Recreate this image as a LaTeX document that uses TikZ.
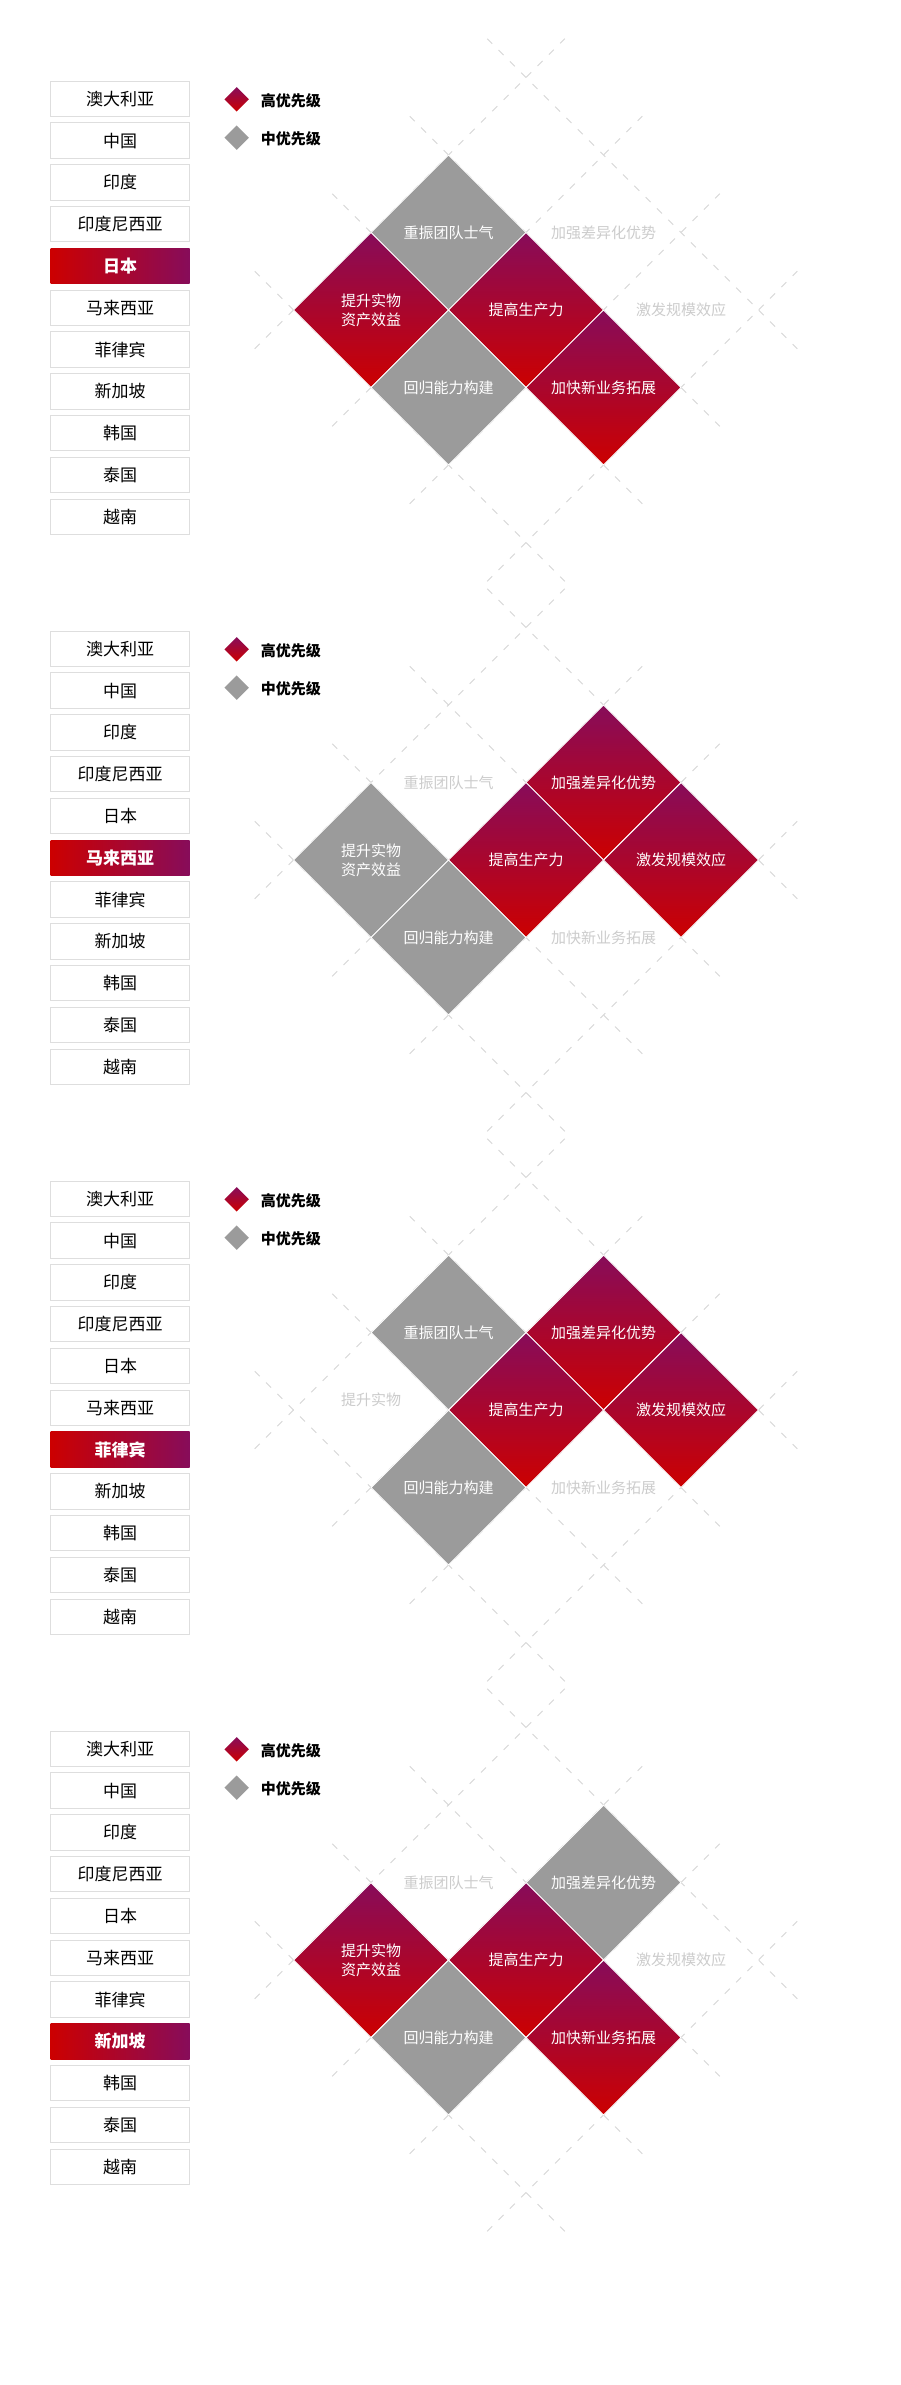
\documentclass[tikz,border=0pt]{standalone}
\usepackage{fontspec}
\setmainfont{Noto Sans CJK SC}
\usetikzlibrary{shapes.geometric}
\definecolor{hired}{RGB}{204,0,0}
\definecolor{hipurple}{RGB}{135,12,90}
\definecolor{midgray}{RGB}{155,155,155}
\definecolor{boxline}{RGB}{222,222,222}
\definecolor{fadetext}{RGB}{204,204,204}
\definecolor{gridline}{RGB}{214,214,214}
\begin{document}
\begin{tikzpicture}[x=1pt,y=-1pt,
  country/.style={draw=boxline,line width=1pt,fill=white,minimum width=139pt,minimum height=35.5pt,inner sep=0pt,font=\fontsize{17}{20}\selectfont},
  picked/.style={country,draw=none,left color=hired,right color=hipurple,text=white,font=\fontsize{17}{20}\selectfont\bfseries},
  dia/.style={diamond,aspect=1,inner sep=0pt,minimum width=155pt,minimum height=155pt,draw=white,line width=0.8pt,text=white,align=center,font=\fontsize{15}{19}\selectfont},
  hidia/.style={dia,top color=hipurple,bottom color=hired},
  middia/.style={dia,fill=midgray},
  faded/.style={text=fadetext,align=center,font=\fontsize{15}{19}\selectfont},
  keydia/.style={diamond,aspect=1,inner sep=0pt,minimum width=24.6pt,minimum height=24.6pt},
  keytext/.style={anchor=west,inner sep=0pt,font=\fontsize{15}{18}\selectfont\bfseries},
  gridlines/.style={gridline,line width=1pt,dash pattern=on 7pt off 9pt}]
\fill[white] (0,0) rectangle (900,2385);
\useasboundingbox (0,0) rectangle (900,2385);

% country list, legend and dashed grid of each panel
\foreach \p/\sel in {0/5,1/6,2/7,3/8}{
\begin{scope}[yshift=-550*\p]
\foreach \name [count=\i] in {澳大利亚,中国,印度,印度尼西亚,日本,马来西亚,菲律宾,新加坡,韩国,泰国,越南}{
  \ifnum\i=\sel\def\look{picked}\else\def\look{country}\fi
  \node[\look] (c\p-\i) at (120,{98.75+41.8*(\i-1)}) {\name};
}
\node[keydia,top color=hipurple,bottom color=hired] (hikey\p) at (236.7,99.3) {};
\node[keytext] (hilabel\p) at (260.7,100.5) {高优先级};
\node[keydia,fill=midgray] (midkey\p) at (236.7,137.7) {};
\node[keytext] (midlabel\p) at (260.7,139) {中优先级};
\foreach \k in {0,...,3}{
  \draw[gridlines] ({254.75+77.5*\k},{271.25-77.5*\k}) -- ++(310,310);
  \draw[gridlines] ({254.75+77.5*\k},{348.75+77.5*\k}) -- ++(310,-310);
}
\end{scope}
}

% panel 1: Japan
\node[middia] (p1-team) at (448.5,232.5) {重振团队士气};
\node[faded] (p1-edge) at (603.5,232.5) {加强差异化优势};
\node[hidia] (p1-asset) at (371,310) {提升实物\\资产效益};
\node[hidia] (p1-prod) at (526,310) {提高生产力};
\node[faded] (p1-scale) at (681,310) {激发规模效应};
\node[middia] (p1-rebuild) at (448.5,387.5) {回归能力构建};
\node[hidia] (p1-newbiz) at (603.5,387.5) {加快新业务拓展};

% panel 2: Malaysia
\node[faded] (p2-team) at (448.5,782.5) {重振团队士气};
\node[hidia] (p2-edge) at (603.5,782.5) {加强差异化优势};
\node[middia] (p2-asset) at (371,860) {提升实物\\资产效益};
\node[hidia] (p2-prod) at (526,860) {提高生产力};
\node[hidia] (p2-scale) at (681,860) {激发规模效应};
\node[middia] (p2-rebuild) at (448.5,937.5) {回归能力构建};
\node[faded] (p2-newbiz) at (603.5,937.5) {加快新业务拓展};

% panel 3: Philippines
\node[middia] (p3-team) at (448.5,1332.5) {重振团队士气};
\node[hidia] (p3-edge) at (603.5,1332.5) {加强差异化优势};
\node[faded] (p3-asset) at (371,1400) {提升实物};
\node[hidia] (p3-prod) at (526,1410) {提高生产力};
\node[hidia] (p3-scale) at (681,1410) {激发规模效应};
\node[middia] (p3-rebuild) at (448.5,1487.5) {回归能力构建};
\node[faded] (p3-newbiz) at (603.5,1487.5) {加快新业务拓展};

% panel 4: Singapore
\node[faded] (p4-team) at (448.5,1882.5) {重振团队士气};
\node[middia] (p4-edge) at (603.5,1882.5) {加强差异化优势};
\node[hidia] (p4-asset) at (371,1960) {提升实物\\资产效益};
\node[hidia] (p4-prod) at (526,1960) {提高生产力};
\node[faded] (p4-scale) at (681,1960) {激发规模效应};
\node[middia] (p4-rebuild) at (448.5,2037.5) {回归能力构建};
\node[hidia] (p4-newbiz) at (603.5,2037.5) {加快新业务拓展};
\end{tikzpicture}
\end{document}
